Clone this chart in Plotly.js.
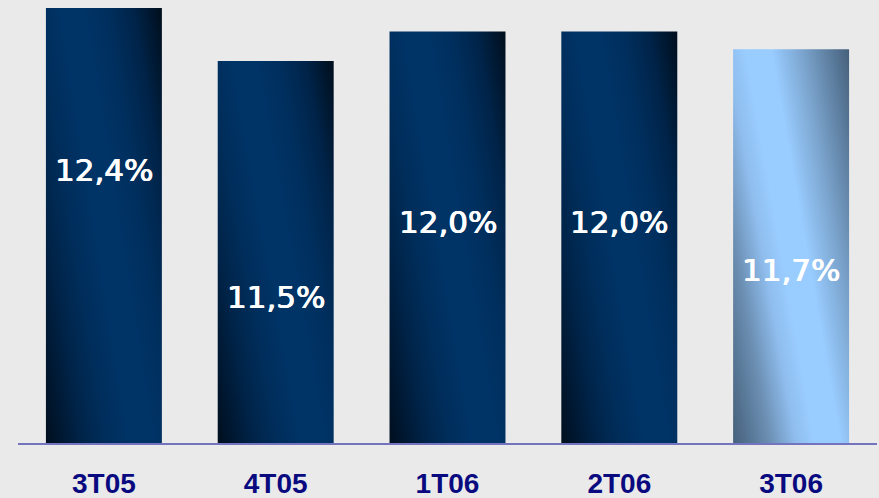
<!DOCTYPE html>
<html>
<head>
<meta charset="utf-8">
<script src="https://cdn.plot.ly/plotly-3.0.1.min.js"></script>
<style>
html,body{margin:0;padding:0;background:#eaeaea;}
#chart{width:879px;height:498px;}
</style>
</head>
<body>
<div id="chart"></div>
<script>
// Data
const categories = ["3T05", "4T05", "1T06", "2T06", "3T06"];
const values = [12.4, 11.5, 12.0, 12.0, 11.7];
const valueLabels = ["12,4%", "11,5%", "12,0%", "12,0%", "11,7%"];

// Layout details (not data)
const labelPos = [0.616, 0.330, 0.499, 0.499, 0.391];
// gradient stops: [offset, colour]
const darkStops = [[0, "#000f1e"], [0.1, "#001934"], [0.2, "#002449"], [0.32, "#002d5a"], [0.45, "#003366"],
                   [0.58, "#003366"], [0.7, "#002f5e"], [0.84, "#00244a"], [1, "#000e1c"]];
const lightStops = [[0, "#45607b"], [0.19, "#6a8db0"], [0.34, "#8fbdee"], [0.44, "#99ccff"],
                    [0.58, "#99ccff"], [0.75, "#7aa3cc"], [1, "#45607b"]];
const barStops = [darkStops, darkStops, darkStops, darkStops, lightStops];

const trace = {
  type: "bar",
  x: categories,
  y: values,
  marker: { color: barStops.map(s => s[4][1]), line: { width: 0 } },
  hoverinfo: "none"
};

const annotations = categories.map((c, i) => ({
  x: c, xref: "x",
  y: labelPos[i], yref: "paper",
  text: valueLabels[i],
  showarrow: false,
  xanchor: "center", yanchor: "middle",
  font: { family: "DejaVu Sans", size: 31, color: "#ffffff",
          shadow: "0.45px 0 0 #fff, -0.45px 0 0 #fff" }
}));

const layout = {
  width: 879, height: 498,
  margin: { l: 18, r: 2, t: 0, b: 55 },
  paper_bgcolor: "#eaeaea",
  plot_bgcolor: "#eaeaea",
  bargap: 0.325,
  showlegend: false,
  xaxis: {
    type: "category",
    showline: true,
    linecolor: "rgba(60,60,170,0.68)",
    linewidth: 2,
    showgrid: false,
    ticks: "",
    ticklabelstandoff: 14,
    tickfont: { family: "Liberation Sans", size: 28, color: "#0a0a80", weight: "bold" },
    fixedrange: true
  },
  yaxis: {
    range: [5, 12.536],
    visible: false,
    showgrid: false,
    zeroline: false,
    fixedrange: true
  },
  annotations: annotations
};

function el(ns, tag, attrs, parent) {
  const e = document.createElementNS(ns, tag);
  for (const k in attrs) e.setAttribute(k, attrs[k]);
  if (parent) parent.appendChild(e);
  return e;
}

Plotly.newPlot("chart", [trace], layout, { staticPlot: true, displayModeBar: false }).then(gd => {
  const svg = gd.querySelector("svg.main-svg");
  const ns = "http://www.w3.org/2000/svg";
  let defs = svg.querySelector("defs");
  if (!defs) { defs = el(ns, "defs", {}); svg.insertBefore(defs, svg.firstChild); }
  const plotH = gd._fullLayout._size.h;
  const paths = gd.querySelectorAll(".barlayer .point path");
  paths.forEach((p, i) => {
    const bb = p.getBBox();
    const x0 = bb.x, w = bb.width;
    const y0 = Math.max(bb.y, 0), y1 = Math.min(bb.y + bb.height, plotH);
    const H = y1 - y0;
    // light band runs from (x0+0.25w, top) to (x0+0.85w, bottom); gradient along its normal
    const nx = H, ny = -0.6 * w;
    const s = 1.6 * w * H / (nx * nx + ny * ny);
    const lg = el(ns, "linearGradient", {
      id: "bargrad" + i, gradientUnits: "userSpaceOnUse",
      x1: x0, y1: y1, x2: x0 + nx * s, y2: y1 + ny * s
    }, defs);
    barStops[i].forEach(([o, c]) => el(ns, "stop", { offset: o, "stop-color": c }, lg));
    p.style.fill = "url(#bargrad" + i + ")";
  });
});
</script>
</body>
</html>
